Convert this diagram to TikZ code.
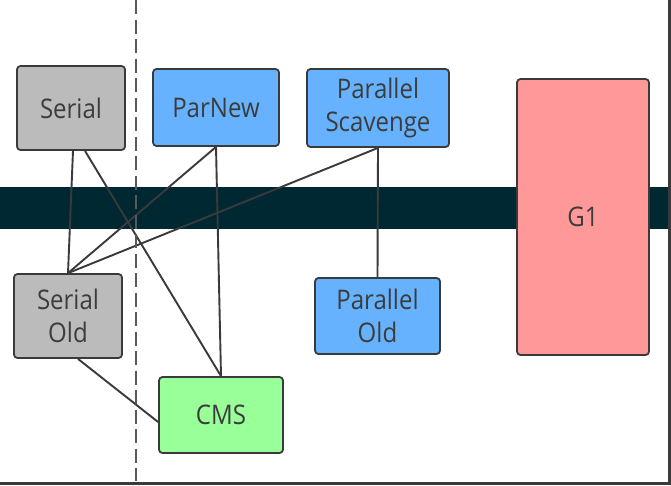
\documentclass[tikz,border=0pt]{standalone}
\usepackage{fontspec}
\setmainfont[FakeStretch=0.89]{Open Sans}
\usetikzlibrary{calc}
\definecolor{txt}{HTML}{3C3C3C}
\definecolor{edge}{HTML}{3A3A3A}
\definecolor{graybox}{HTML}{BBBBBB}
\definecolor{bluebox}{HTML}{66B2FF}
\definecolor{greenbox}{HTML}{99FF99}
\definecolor{redbox}{HTML}{FF9999}
\definecolor{band}{HTML}{002833}
\tikzset{
  gcbox/.style={draw=edge, line width=1.8pt, rounded corners=3.5pt, align=center,
    text=txt, inner sep=0pt, font=\fontsize{27}{33}\selectfont},
  link/.style={draw=edge, line width=1.9pt},
}
\begin{document}
\begin{tikzpicture}[x=1pt,y=-1pt]
\useasboundingbox (0,0) rectangle (671,485);
\fill[white] (0,0) rectangle (671,485);
% dark band
\fill[band] (0,187) rectangle (669,229);
% nodes
\node[gcbox, fill=graybox, minimum width=108pt, minimum height=84pt] (serial) at (71,108) {Serial};
\node[gcbox, fill=bluebox, minimum width=126pt, minimum height=77pt] (parnew) at (216,107.5) {ParNew};
\node[gcbox, fill=bluebox, minimum width=142pt, minimum height=78pt] (ps) at (378,108) {Parallel\\Scavenge};
\node[gcbox, fill=redbox, minimum width=132pt, minimum height=276pt] (g1) at (583,217) {G1};
\node[gcbox, fill=bluebox, minimum width=125pt, minimum height=76pt] (po) at (377.5,316) {Parallel\\Old};
\node[gcbox, fill=graybox, minimum width=108pt, minimum height=84pt] (so) at (68,316) {Serial\\Old};
\node[gcbox, fill=greenbox, minimum width=124pt, minimum height=76pt] (cms) at (221,415) {CMS};
% connectors
\draw[link] ($(serial.south)+(2,0)$) -- (so.north);
\draw[link] ($(serial.south)+(14,0)$) -- (cms.north);
\draw[link] (parnew.south) -- (cms.north);
\draw[link] (parnew.south) -- (so.north);
\draw[link] (ps.south) -- (so.north);
\draw[link] (ps.south) -- (po.north);
\draw[link] ($(so.south)+(10,0)$) -- ($(cms.west)+(0,7)$);
% dashed divider
\coordinate (dtop) at (136,0);
\coordinate (dbot) at (136,481);
\draw[draw=black!65, line width=2pt, dash pattern=on 14pt off 5.5pt] (dtop) -- (dbot);
% frame
\coordinate (fr1) at (669.7,0);
\coordinate (fr2) at (669.7,483.3);
\coordinate (fr3) at (0,483.3);
\draw[draw=edge, line width=2.6pt] (fr1) -- (fr2) -- (fr3);
\end{tikzpicture}
\end{document}
